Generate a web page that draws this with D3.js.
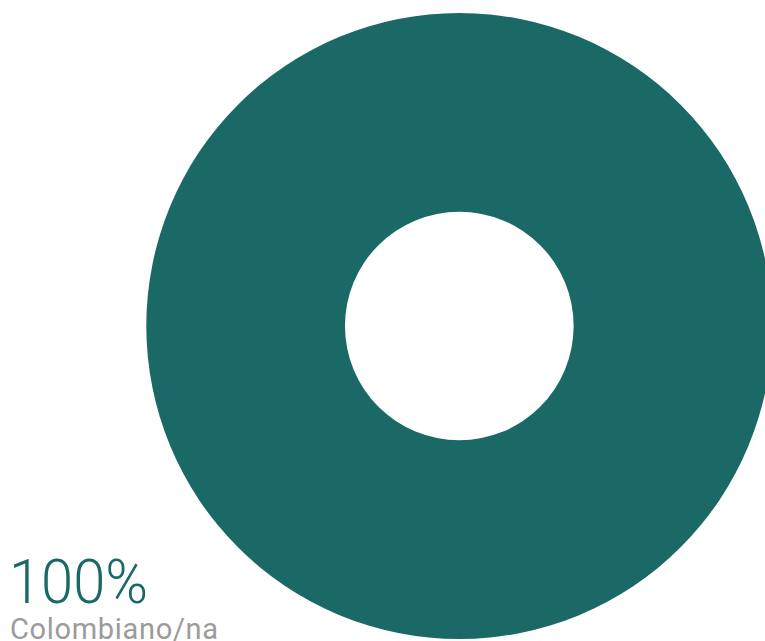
<!DOCTYPE html>
<html>
<head>
<meta charset="utf-8">
<script src="https://cdn.jsdelivr.net/npm/d3@7"></script>
<style>
  html, body { margin: 0; padding: 0; background: #fff; }
  svg { display: block; }
</style>
</head>
<body>
<svg id="chart" width="765" height="641"></svg>
<script>
// Nationality breakdown
const categories = ["Colombiano/na"];
const values = [100];
const colors = ["#1b6966"];

const svg = d3.select("#chart");
const cx = 459.3, cy = 326, outerR = 313, innerR = 114.3;

const pie = d3.pie().sort(null).value(d => d);
const arc = d3.arc().innerRadius(innerR).outerRadius(outerR);

svg.append("g")
  .attr("transform", `translate(${cx},${cy})`)
  .selectAll("path")
  .data(pie(values))
  .join("path")
  .attr("d", arc)
  .attr("fill", (d, i) => colors[i]);

// Label for the main slice
const total = d3.sum(values);
svg.append("text")
  .attr("x", 9)
  .attr("y", 603)
  .attr("fill", "#1b6966")
  .attr("font-family", "Roboto, sans-serif")
  .attr("font-weight", 300)
  .attr("font-size", 62)
  .attr("textLength", 139)
  .attr("lengthAdjust", "spacingAndGlyphs")
  .text(d3.format(".0f")(values[0] / total * 100) + "%");

svg.append("text")
  .attr("x", 10)
  .attr("y", 639)
  .attr("fill", "#9b9b9b")
  .attr("font-family", "Roboto, sans-serif")
  .attr("font-weight", 400)
  .attr("font-size", 29)
  .attr("textLength", 208)
  .attr("lengthAdjust", "spacing")
  .text(categories[0]);
</script>
</body>
</html>
